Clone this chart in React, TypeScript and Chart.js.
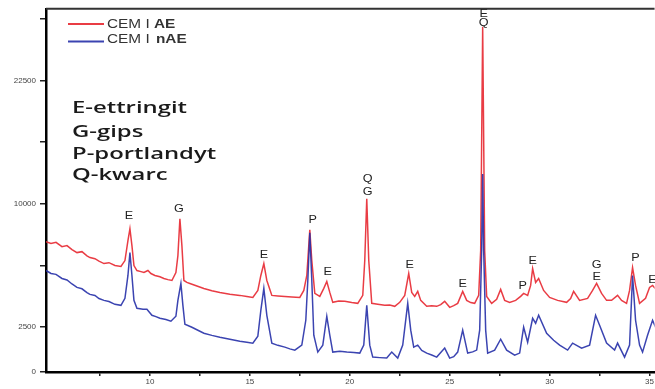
import React, { useEffect, useRef } from 'react';
import { Chart, registerables, LinearScale } from 'chart.js';

Chart.register(...registerables);

// Square-root intensity axis (as in the reference XRD plot)
class SqrtScale extends LinearScale {
  static id = 'sqrt';
  static defaults = {};
  getPixelForValue(value: number) {
    if (value === null || value === undefined || isNaN(value)) return NaN;
    const lo = Math.sqrt(this.min);
    const hi = Math.sqrt(this.max);
    return this.getPixelForDecimal((Math.sqrt(Math.max(value, 0)) - lo) / (hi - lo));
  }
  getValueForPixel(pixel: number) {
    const lo = Math.sqrt(this.min);
    const hi = Math.sqrt(this.max);
    const s = lo + this.getDecimalForPixel(pixel) * (hi - lo);
    return s * s;
  }
}
Chart.register(SqrtScale as any);

// ---------- DATA ----------
const SERIES_NAMES = ['CEM I AE', 'CEM I nAE'];

const RED_2THETA = [
  4.8, 5.05, 5.3, 5.6, 5.85, 6.1, 6.35, 6.6, 6.85, 7.0, 7.25, 7.45, 7.7, 7.95, 8.25, 8.55, 8.75, 8.9, 9.0, 9.1,
  9.2, 9.35, 9.55, 9.7, 9.9, 10.05, 10.25, 10.5, 10.7, 10.9, 11.1, 11.3, 11.4, 11.5, 11.6, 11.7, 11.85, 12.0, 12.35, 12.7,
  13.1, 13.5, 14.0, 14.5, 14.85, 15.15, 15.4, 15.55, 15.7, 15.85, 16.1, 16.4, 16.75, 17.1, 17.5, 17.7, 17.85, 18.0, 18.1, 18.25,
  18.5, 18.7, 18.85, 19.0, 19.15, 19.45, 19.75, 20.1, 20.4, 20.65, 20.75, 20.85, 20.95, 21.1, 21.4, 21.75, 22.0, 22.25, 22.5, 22.75,
  22.95, 23.1, 23.25, 23.4, 23.55, 23.85, 24.1, 24.35, 24.55, 24.75, 25.0, 25.2, 25.4, 25.65, 25.85, 26.05, 26.25, 26.45, 26.55, 26.65,
  26.75, 26.85, 27.1, 27.35, 27.55, 27.75, 28.0, 28.3, 28.55, 28.7, 28.9, 29.05, 29.15, 29.3, 29.45, 29.7, 30.0, 30.4, 30.85, 31.05,
  31.2, 31.5, 31.9, 32.15, 32.35, 32.6, 32.85, 33.1, 33.4, 33.6, 33.85, 34.0, 34.15, 34.3, 34.5, 34.8, 35.0, 35.15, 35.3,
];
const RED_COUNTS = [
  7171, 7050, 7120, 6833, 6900, 6640, 6438, 6500, 6230, 6119, 6050, 5900, 5746, 5800, 5625, 5565, 5929, 7239, 8085, 6899,
  5625, 5326, 5260, 5210, 5326, 5150, 5037, 4960, 4867, 4800, 4754, 5210, 6246, 8827, 6899, 4754, 4650, 4589, 4450, 4320,
  4200, 4110, 4020, 3957, 3900, 3856, 4214, 5037, 5746, 4754, 3957, 3930, 3906, 3880, 3856, 4214, 5037, 8013, 5932, 4059,
  3906, 4320, 4699, 4110, 3610, 3680, 3658, 3600, 3561, 3957, 5932, 10408, 5932, 3561, 3520, 3466, 3480, 3419, 3610, 3957,
  5151, 4110, 3906, 4163, 3707, 3419, 3450, 3419, 3500, 3658, 3371, 3450, 3561, 4163, 3707, 3600, 3561, 3957, 6569, 29505,
  6569, 3906, 3561, 3756, 4267, 3707, 3610, 3707, 3906, 4059, 3957, 4481, 5445, 4644, 4867, 4214, 3856, 3707, 3610, 3800,
  4163, 3707, 3806, 4214, 4589, 4059, 3707, 3707, 3957, 3707, 3561, 4214, 5504, 4481, 3561, 3806, 4373, 4481, 4300,
];

const BLUE_2THETA = [
  4.8, 5.05, 5.3, 5.6, 5.85, 6.1, 6.35, 6.6, 6.85, 7.0, 7.25, 7.45, 7.7, 7.95, 8.25, 8.55, 8.75, 8.9, 9.0, 9.1,
  9.2, 9.35, 9.5, 9.65, 9.85, 10.1, 10.3, 10.5, 10.8, 11.05, 11.3, 11.4, 11.55, 11.65, 11.75, 12.1, 12.4, 12.7, 13.1, 13.5,
  14.0, 14.5, 14.85, 15.15, 15.4, 15.55, 15.7, 15.85, 16.1, 16.4, 16.75, 17.0, 17.25, 17.6, 17.8, 17.9, 18.0, 18.1, 18.2, 18.4,
  18.65, 18.85, 19.0, 19.15, 19.5, 19.85, 20.2, 20.5, 20.7, 20.85, 21.0, 21.15, 21.5, 21.85, 22.1, 22.4, 22.65, 22.9, 23.05, 23.2,
  23.4, 23.6, 23.85, 24.1, 24.35, 24.75, 25.0, 25.2, 25.4, 25.65, 25.9, 26.15, 26.35, 26.5, 26.6, 26.65, 26.7, 26.8, 26.9, 27.25,
  27.55, 27.85, 28.25, 28.5, 28.7, 28.9, 29.15, 29.3, 29.45, 29.85, 30.2, 30.5, 30.9, 31.15, 31.6, 32.0, 32.3, 32.5, 32.85, 33.25,
  33.4, 33.75, 34.0, 34.15, 34.3, 34.5, 34.65, 34.9, 35.15, 35.3,
];
const BLUE_COUNTS = [
  5326, 5150, 5100, 4867, 4780, 4560, 4373, 4300, 4100, 4008, 3950, 3800, 3707, 3650, 3513, 3466, 3806, 5037, 6438, 5037,
  3707, 3325, 3300, 3278, 3278, 3007, 2950, 2876, 2820, 2748, 2964, 3707, 4589, 3466, 2623, 2500, 2380, 2264, 2180, 2113,
  2040, 1967, 1930, 1897, 2150, 3232, 4320, 3007, 1897, 1820, 1759, 1700, 1659, 1827, 2790, 4754, 7799, 4754, 2188, 1594,
  1827, 2964, 2188, 1594, 1620, 1594, 1580, 1562, 1827, 3466, 1827, 1436, 1420, 1406, 1594, 1406, 1827, 3561, 2381, 1759,
  1827, 1650, 1562, 1500, 1436, 1725, 1406, 1450, 1594, 2381, 1562, 1600, 1659, 2381, 6569, 12566, 6569, 2381, 1562, 1659,
  2039, 1659, 1498, 1562, 2500, 1932, 2876, 2664, 3007, 2264, 2000, 1827, 1659, 1897, 1725, 1827, 3007, 2581, 1897, 1659,
  1897, 1436, 1827, 5037, 2790, 1827, 1594, 2188, 2790, 2500,
];

// phase labels above peaks
const PEAK_TEXT = ['E', 'G', 'E', 'P', 'E', 'Q', 'G', 'E', 'E', 'E', 'Q', 'P', 'E', 'G', 'E', 'P', 'E'];
const PEAK_2THETA = [8.95, 11.45, 15.7, 18.15, 18.9, 20.9, 20.9, 23.0, 25.65, 26.7, 26.7, 28.65, 29.15, 32.35, 32.35, 34.3, 35.15];
const PEAK_COUNTS = [9055, 9600, 6246, 8752, 5210, 12117, 10991, 5625, 4535, 31330, 30070, 4427, 5869, 5625, 4923, 6056, 4754];

const KEY_LINES = ['E-ettringit', 'G-gips', 'P-portlandyt', 'Q-kwarc'];

const X_MIN = 4.8;
const X_MAX = 35.25;
const X_TICKS = [7.5, 10, 12.5, 15, 17.5, 20, 22.5, 25, 27.5, 30, 32.5, 35];
const Y_MIN = 1015;
const Y_MAX = 32050;
const Y_TICKS = [1015, 2500, 5625, 10000, 15625, 22500, 30625];
const Y_TICK_LABELS = ['0', '2500', '', '10000', '', '22500', ''];

const RED = 'rgba(232, 50, 58, 0.95)';
const BLUE = 'rgba(38, 48, 168, 0.9)';

function stretchText(ctx: CanvasRenderingContext2D, text: string, x: number, y: number, sx: number, align: CanvasTextAlign) {
  ctx.save();
  ctx.translate(x, y);
  ctx.scale(sx, 1);
  ctx.textAlign = align;
  ctx.fillText(text, 0, 0);
  ctx.restore();
}

const overlayPlugin = {
  id: 'overlay',
  afterDraw(chart: any) {
    const ctx: CanvasRenderingContext2D = chart.ctx;
    const { chartArea } = chart;
    const xs = chart.scales.x;
    const ys = chart.scales.y;
    ctx.save();

    // top frame line
    ctx.strokeStyle = '#333';
    ctx.lineWidth = 2;
    ctx.beginPath();
    ctx.moveTo(chartArea.left, chartArea.top);
    ctx.lineTo(chartArea.right, chartArea.top);
    ctx.stroke();

    // peak labels
    ctx.fillStyle = '#222';
    ctx.font = '10.5px "Liberation Sans", Arial, sans-serif';
    ctx.textBaseline = 'middle';
    PEAK_TEXT.forEach((t, i) => {
      const px = xs.getPixelForValue(PEAK_2THETA[i]);
      const py = ys.getPixelForValue(PEAK_COUNTS[i]);
      stretchText(ctx, t, px, py, 1.2, 'center');
    });

    // legend
    const legendColors = [RED, BLUE];
    const legendLineY = [24, 41.5];
    const legendTextY = [24.5, 39.5];
    const bolds = ['AE', 'nAE'];
    legendColors.forEach((c, i) => {
      ctx.strokeStyle = c;
      ctx.lineWidth = 2;
      ctx.beginPath();
      ctx.moveTo(68, legendLineY[i]);
      ctx.lineTo(104, legendLineY[i]);
      ctx.stroke();
      ctx.fillStyle = '#333';
      ctx.textBaseline = 'middle';
      ctx.font = '12px "Liberation Sans", Arial, sans-serif';
      const base = SERIES_NAMES[i].slice(0, SERIES_NAMES[i].length - bolds[i].length);
      stretchText(ctx, base, 107, legendTextY[i], 1.28, 'left');
      const w = ctx.measureText(base).width * 1.28;
      ctx.font = 'bold 12px "Liberation Sans", Arial, sans-serif';
      stretchText(ctx, bolds[i], 107 + w + (i === 1 ? 2 : 0), legendTextY[i], 1.28, 'left');
    });

    // phase key
    ctx.fillStyle = '#1a1a1a';
    ctx.font = '600 15.5px "Open Sans", "Noto Sans", sans-serif';
    ctx.textBaseline = 'alphabetic';
    const sx = 115 / ctx.measureText(KEY_LINES[0]).width;
    const baselines = [113, 136.5, 158.5, 180];
    KEY_LINES.forEach((t, i) => stretchText(ctx, t, 72, baselines[i], sx, 'left'));

    ctx.restore();
  },
};

export default function App() {
  const ref = useRef<HTMLCanvasElement>(null);

  useEffect(() => {
    if (!ref.current) return;
    Chart.defaults.font.family = '"Liberation Sans", Arial, sans-serif';
    const chart = new Chart(ref.current, {
      type: 'line',
      data: {
        datasets: [
          {
            label: SERIES_NAMES[0],
            data: RED_2THETA.map((x, i) => ({ x, y: RED_COUNTS[i] })),
            borderColor: RED,
            borderWidth: 1.5,
            pointRadius: 0,
            tension: 0,
            order: 2,
          },
          {
            label: SERIES_NAMES[1],
            data: BLUE_2THETA.map((x, i) => ({ x, y: BLUE_COUNTS[i] })),
            borderColor: BLUE,
            borderWidth: 1.5,
            pointRadius: 0,
            tension: 0,
            order: 1,
          },
        ],
      },
      options: {
        animation: false,
        responsive: false,
        devicePixelRatio: 1,
        layout: { padding: { top: 7, right: 0, bottom: 0, left: 0 } },
        plugins: { legend: { display: false }, tooltip: { enabled: false } },
        scales: {
          x: {
            type: 'linear',
            min: X_MIN,
            max: X_MAX,
            bounds: 'data',
            afterBuildTicks: (s: any) => {
              s.ticks = X_TICKS.map((v) => ({ value: v }));
            },
            afterFit: (s: any) => {
              s.height = 17;
            },
            ticks: {
              autoSkip: false,
              maxRotation: 0,
              padding: 1,
              color: '#444',
              font: { size: 8 },
              callback: (v: any) => (Number(v) % 5 === 0 ? String(v) : ''),
            },
            grid: { display: true, drawOnChartArea: false, drawTicks: true, tickLength: 4, color: '#222', lineWidth: 1.5 },
            border: { display: true, color: '#000', width: 2.5 },
          },
          y: {
            type: 'sqrt' as any,
            min: Y_MIN,
            max: Y_MAX,
            bounds: 'data',
            afterBuildTicks: (s: any) => {
              s.ticks = Y_TICKS.map((v) => ({ value: v }));
            },
            afterFit: (s: any) => {
              s.width = 46;
            },
            ticks: {
              autoSkip: false,
              padding: 4,
              color: '#444',
              font: { size: 8 },
              callback: (_v: any, idx: number) => Y_TICK_LABELS[idx],
            },
            grid: { display: true, drawOnChartArea: false, drawTicks: true, tickLength: 6, color: '#222', lineWidth: 1.5 },
            border: { display: true, color: '#000', width: 2.5 },
          },
        },
      },
      plugins: [overlayPlugin],
    } as any);
    return () => chart.destroy();
  }, []);

  return (
    <div style={{ position: 'fixed', left: 0, top: 0, width: 655, height: 389, background: '#fff' }}>
      <canvas ref={ref} width={655} height={389} style={{ display: 'block' }} />
    </div>
  );
}
